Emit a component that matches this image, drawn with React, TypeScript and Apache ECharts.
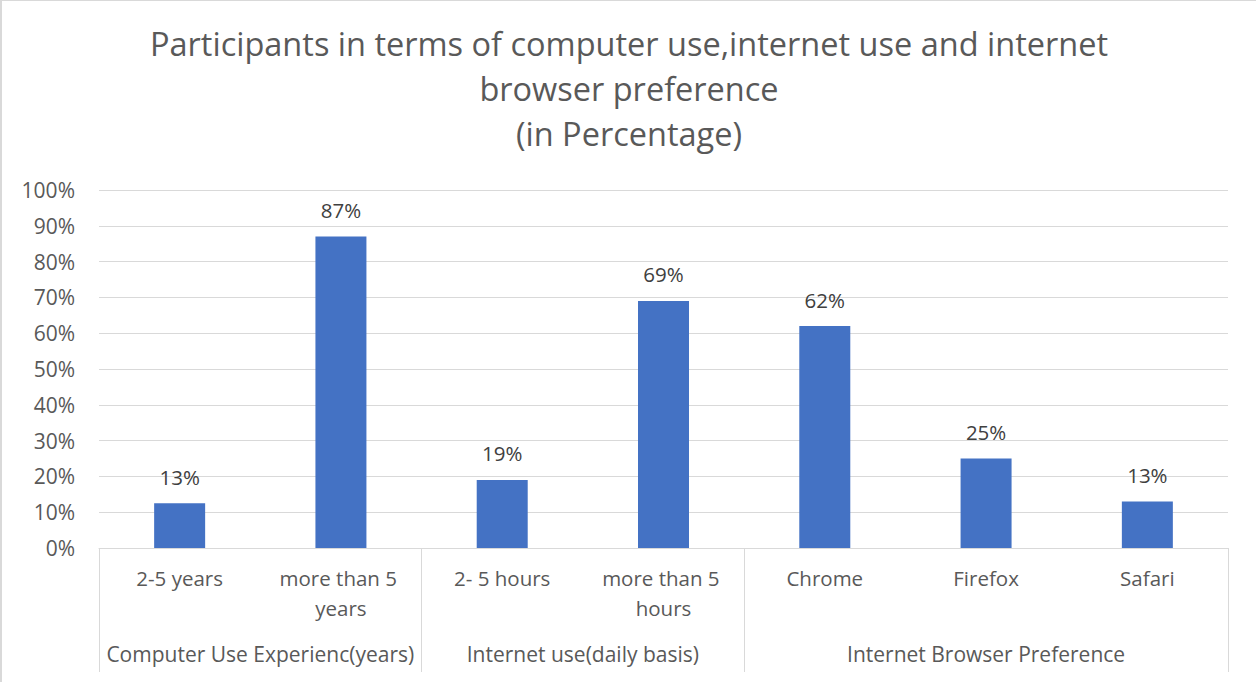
import React, { useEffect, useRef } from "react";
import * as echarts from "echarts";

const titleLines = [
  "Participants in terms of computer use,internet use and internet",
  "browser preference",
  "(in Percentage)",
];
const categories = [
  "2-5 years",
  "more than 5 years",
  "2- 5 hours",
  "more than 5 hours",
  "Chrome",
  "Firefox",
  "Safari",
];
const values = [12.5, 87, 19, 69, 62, 25, 13];
const groups = [
  "Computer Use Experienc(years)",
  "Internet use(daily basis)",
  "Internet Browser Preference",
];
const groupSizes = [2, 2, 3];
const yTicks = [0, 10, 20, 30, 40, 50, 60, 70, 80, 90, 100];

const FONT = "'Open Sans', 'Noto Sans', sans-serif";
const GRAY = "#595959";
const LINE = "#d9d9d9";

export default function App() {
  const ref = useRef<HTMLDivElement>(null);
  useEffect(() => {
    document.body.style.margin = "0";
    const chart = echarts.init(ref.current!, null, { renderer: "svg" });
    const starts: number[] = [];
    const centers: number[] = [];
    let acc = 0;
    groupSizes.forEach((s) => {
      starts.push(acc);
      centers.push(acc + s / 2);
      acc += s;
    });
    chart.setOption({
      animation: false,
      backgroundColor: "#fff",
      textStyle: { fontFamily: FONT },
      title: {
        text: titleLines.join("\n"),
        left: "center",
        top: 15,
        textStyle: {
          fontFamily: FONT,
          fontSize: 32.5,
          fontWeight: "normal",
          color: GRAY,
          lineHeight: 45,
        },
      },
      grid: { left: 97, right: 28, top: 189, bottom: 134, containLabel: false },
      xAxis: [
        {
          type: "category",
          data: categories,
          position: "bottom",
          axisLine: { show: true, lineStyle: { color: LINE, width: 1 } },
          axisTick: {
            show: true,
            length: 124,
            interval: (i: number) => starts.includes(i),
            lineStyle: { color: LINE, width: 1 },
          },
          axisLabel: {
            interval: 0,
            color: GRAY,
            fontSize: 20.5,
            fontFamily: FONT,
            margin: 15,
            lineHeight: 30,
            width: 155,
            overflow: "break",
          },
        },
        {
          type: "value",
          min: 0,
          max: categories.length,
          position: "bottom",
          axisLine: { show: false },
          axisTick: { show: false },
          splitLine: { show: false },
          axisLabel: {
            customValues: centers,
            formatter: (v: number) => groups[centers.indexOf(v)] ?? "",
            color: GRAY,
            fontSize: 21,
            fontFamily: FONT,
            margin: 95,
          },
        },
      ],
      yAxis: {
        type: "value",
        min: 0,
        max: 100,
        interval: 10,
        axisLine: { show: false },
        axisTick: { show: false },
        splitLine: { lineStyle: { color: LINE, width: 1 } },
        axisLabel: {
          formatter: (v: number) => (yTicks.includes(v) ? `${v}%` : ""),
          color: GRAY,
          fontSize: 21,
          fontFamily: FONT,
          margin: 24,
        },
      },
      series: [
        {
          type: "bar",
          data: values,
          barWidth: 51,
          itemStyle: { color: "#4472C4" },
          label: {
            show: true,
            position: "top",
            distance: 16,
            formatter: (p: any) => `${Math.round(p.value)}%`,
            color: "#404040",
            fontSize: 20.5,
            fontFamily: FONT,
          },
        },
      ],
    });
    return () => chart.dispose();
  }, []);
  return (
    <div
      style={{
        position: "absolute",
        left: 0,
        top: 0,
        width: 1256,
        height: 682,
        boxSizing: "border-box",
        borderLeft: "2px solid #d9d9d9",
        borderTop: "1px solid #d9d9d9",
        background: "#fff",
      }}
    >
      <div ref={ref} style={{ width: 1254, height: 681 }} />
    </div>
  );
}
